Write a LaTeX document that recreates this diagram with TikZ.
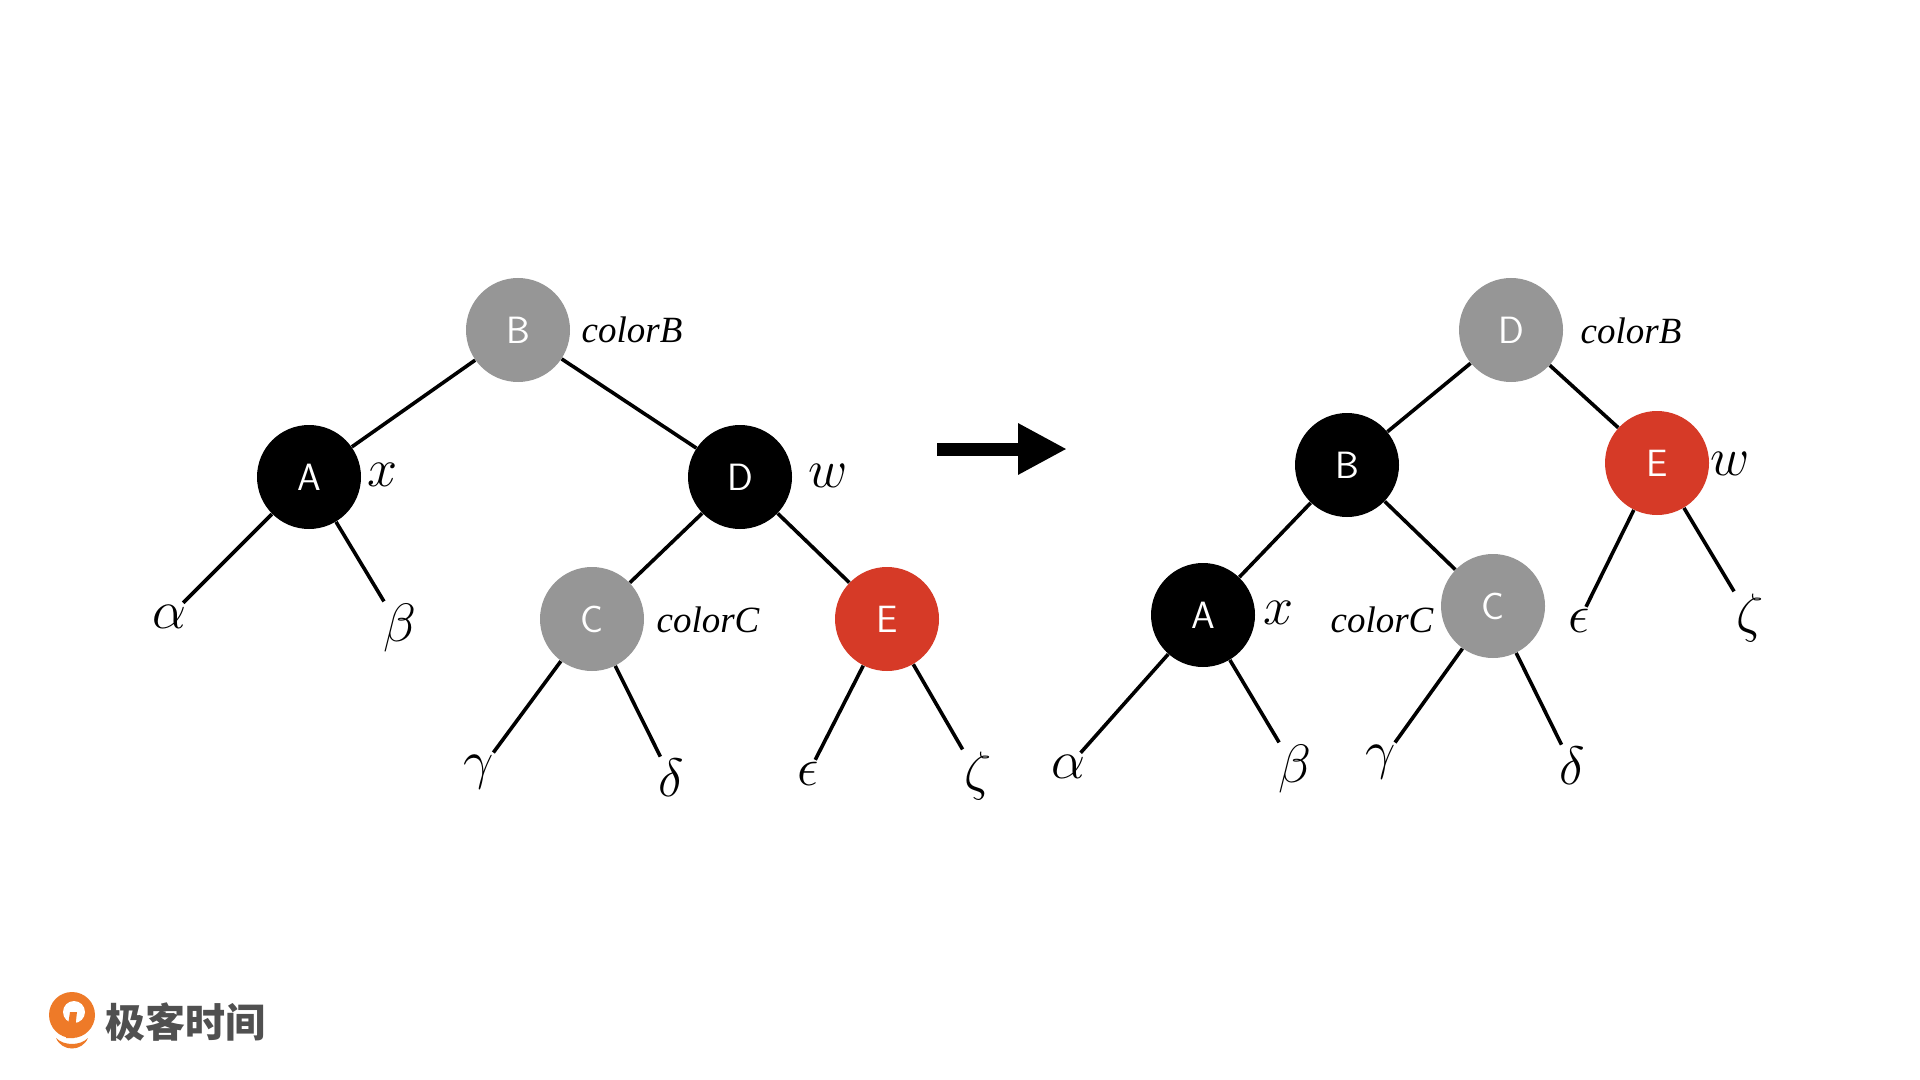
\documentclass[tikz,border=0pt]{standalone}
\usepackage{fontspec}
\newfontfamily\cjk{Noto Sans CJK SC}
\newfontfamily\tagfont{Liberation Serif}
\usetikzlibrary{arrows.meta}
\definecolor{rbgray}{RGB}{150,150,150}
\definecolor{rbred}{RGB}{214,58,39}
\definecolor{logoorange}{RGB}{238,122,40}
\definecolor{logogray}{RGB}{80,80,80}
\tikzset{
  rbnode/.style={circle,minimum size=52pt,inner sep=0pt,text=white,font=\fontsize{19}{19}\sffamily},
  blacknode/.style={rbnode,fill=black},
  graynode/.style={rbnode,fill=rbgray},
  rednode/.style={rbnode,fill=rbred},
  leaf/.style={inner sep=1pt,scale=1.085,font=\fontsize{24.88}{24.88}\selectfont},
  tag/.style={inner sep=0pt,font=\tagfont\fontsize{18.5}{18.5}\selectfont\itshape},
  edge/.style={line width=1.8pt}
}
\begin{document}
\begin{tikzpicture}[x=0.5pt,y=-0.5pt]
\fill[white](0,0)rectangle(1920,1080);
\useasboundingbox(0,0)rectangle(1920,1080);
% left tree
\node[graynode](lB)at(518,330){B};
\node[blacknode](lA)at(309,477){A};
\node[blacknode](lD)at(740,477){D};
\node[graynode](lC)at(592,619){C};
\node[rednode](lE)at(887,619){E};
\node[tag](lcB)at(632,330){colorB};
\node[tag](lcC)at(708,620){colorC};
\node[leaf](lx)at(383,475){$x$};
\node[leaf](lw)at(828,476){$w$};
\node[leaf](lal)at(169,617){$\alpha$};
\node[leaf](lbe)at(400,628){$\beta$};
\node[leaf](lga)at(479,772){$\gamma$};
\node[leaf](lde)at(671,778){$\delta$};
\node[leaf](lep)at(808,774){$\epsilon$};
\node[leaf](lze)at(978,776){$\zeta$};
\draw[edge](lB)--(lA);\draw[edge](lB)--(lD);
\draw[edge](lD)--(lC);\draw[edge](lD)--(lE);
\draw[edge](lA)--(lal);\draw[edge](lA)--(lbe);
\draw[edge](lC)--(lga);\draw[edge](lC)--(lde);
\draw[edge](lE)--(lep);\draw[edge](lE)--(lze);
% arrow
\coordinate(arrL)at(937,449);
\coordinate(arrR)at(1067,449);
\draw[line width=6.5pt,-{Triangle[length=24.5pt,width=24pt]}](arrL)--(arrR);
% right tree
\node[graynode](rD)at(1511,330){D};
\node[blacknode](rB)at(1347,465){B};
\node[rednode](rE)at(1657,463){E};
\node[blacknode](rA)at(1203,615){A};
\node[graynode](rC)at(1493,606){C};
\node[tag](rcB)at(1631,331){colorB};
\node[tag](rcC)at(1382,620){colorC};
\node[leaf](rw)at(1730,464){$w$};
\node[leaf](rx)at(1278,613){$x$};
\node[leaf](ral)at(1068,767){$\alpha$};
\node[leaf](rbe)at(1295,769){$\beta$};
\node[leaf](rga)at(1381,762){$\gamma$};
\node[leaf](rde)at(1572,766){$\delta$};
\node[leaf](rep)at(1579,621){$\epsilon$};
\node[leaf](rze)at(1750,618){$\zeta$};
\draw[edge](rD)--(rB);\draw[edge](rD)--(rE);
\draw[edge](rB)--(rA);\draw[edge](rB)--(rC);
\draw[edge](rA)--(ral);\draw[edge](rA)--(rbe);
\draw[edge](rC)--(rga);\draw[edge](rC)--(rde);
\draw[edge](rE)--(rep);\draw[edge](rE)--(rze);
% logo
\fill[logoorange](72,1015)circle[radius=23];
\fill[white](74,1012)circle[radius=11];
\fill[logoorange](70,1012)--(77,1012)--(74,1038)--(66,1038)--cycle;
\fill[logoorange](56,1038)..controls(64,1046)and(80,1046)..(88,1038)
  ..controls(82,1052)and(62,1052)..(56,1038)--cycle;
\node[text=logogray,font=\cjk\fontsize{20}{20}\selectfont\bfseries,inner sep=0pt](logo)at(185,1022){极客时间};
\end{tikzpicture}
\end{document}
